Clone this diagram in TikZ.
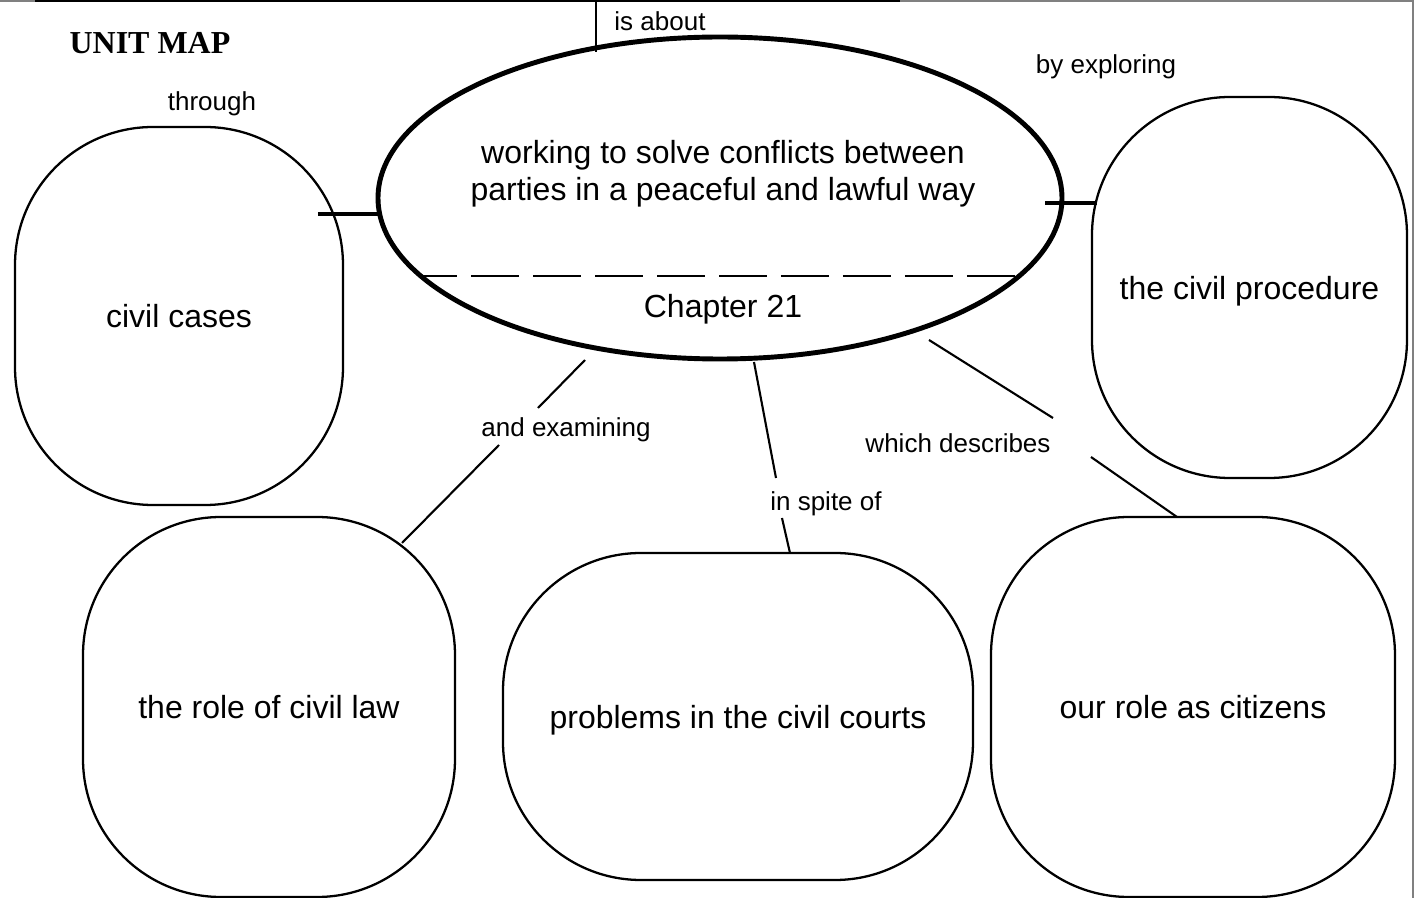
\documentclass[tikz,border=0pt]{standalone}
\usepackage{fontspec}
\setmainfont{Liberation Sans}
\newfontfamily\titlefont{Liberation Serif}
\usetikzlibrary{shapes.geometric}
\begin{document}
\begin{tikzpicture}[
    box/.style={draw, line width=0.65pt, rounded corners=1.38cm, inner sep=0pt, text depth=0pt, font=\fontsize{9.1}{10.5}\selectfont},
    lab/.style={font=\fontsize{7.4}{9}\selectfont, inner sep=0pt},
    link/.style={line width=0.6pt}]
\useasboundingbox (0,0) rectangle (14.16,-8.98);

% page edges
\draw[gray, line width=0.4pt](0,-0.01)--(14.13,-0.01)--(14.13,-8.98);
\draw[line width=0.7pt](0.35,-0.01)--(9.0,-0.01);

\node[font=\titlefont\bfseries\fontsize{9.1}{11}\selectfont] (title) at (1.50,-0.43) {UNIT MAP};

% centre
\node[ellipse, draw, line width=1.4pt, minimum width=6.84cm, minimum height=3.22cm] (topic) at (7.20,-1.98) {};
\node[align=center, font=\fontsize{9.1}{10.5}\selectfont] (topictext) at (7.23,-1.735) {working to solve conflicts between\\parties in a peaceful and lawful way};
\draw[dash pattern=on 0.48cm off 0.14cm, dash phase=0.12cm, line width=0.4pt](4.21,-2.76)--(10.19,-2.76);
\node[font=\fontsize{9.1}{10.5}\selectfont] (chap) at (7.23,-3.09) {Chapter 21};

% boxes
\node[box, minimum width=3.28cm, minimum height=3.78cm] (cases) at (1.79,-3.16) {civil cases};
\node[box, minimum width=3.15cm, minimum height=3.81cm] (proc) at (12.495,-2.875) {the civil procedure};
\node[box, minimum width=3.72cm, minimum height=3.80cm] (law) at (2.69,-7.07) {the role of civil law};
\node[box, minimum width=4.70cm, minimum height=3.27cm] (courts) at (7.38,-7.165) {problems in the civil courts};
\node[box, minimum width=4.04cm, minimum height=3.80cm] (cit) at (11.93,-7.07) {our role as citizens};

% links
\coordinate (a1) at (5.96,0);
\coordinate (a2) at (5.96,-0.52);
\draw[link, line width=0.8pt](a1)--(a2);
\node[lab] at (6.60,-0.21) {is about};

\coordinate (t1) at (3.18,-2.14);
\coordinate (t2) at (3.79,-2.14);
\draw[link, line width=0.9pt](t1)--(t2);
\node[lab] at (2.12,-1.04) {through};

\coordinate (b1) at (10.45,-2.03);
\coordinate (b2) at (10.97,-2.03);
\draw[link, line width=0.9pt](b1)--(b2);
\node[lab] at (11.06,-0.67) {by exploring};

\coordinate (e1) at (5.85,-3.60);
\coordinate (e2) at (5.38,-4.08);
\coordinate (e3) at (4.99,-4.45);
\coordinate (e4) at (4.02,-5.43);
\draw[link](e1)--(e2);
\draw[link](e3)--(e4);
\node[lab] at (5.66,-4.30) {and examining};

\coordinate (s1) at (7.54,-3.62);
\coordinate (s2) at (7.76,-4.78);
\coordinate (s3) at (7.82,-5.18);
\coordinate (s4) at (7.90,-5.53);
\draw[link](s1)--(s2);
\draw[link](s3)--(s4);
\node[lab] at (8.26,-5.04) {in spite of};

\coordinate (w1) at (9.29,-3.40);
\coordinate (w2) at (10.53,-4.18);
\coordinate (w3) at (10.91,-4.57);
\coordinate (w4) at (11.77,-5.17);
\draw[link](w1)--(w2);
\draw[link](w3)--(w4);
\node[lab] at (9.58,-4.43) {which describes};

\end{tikzpicture}
\end{document}
